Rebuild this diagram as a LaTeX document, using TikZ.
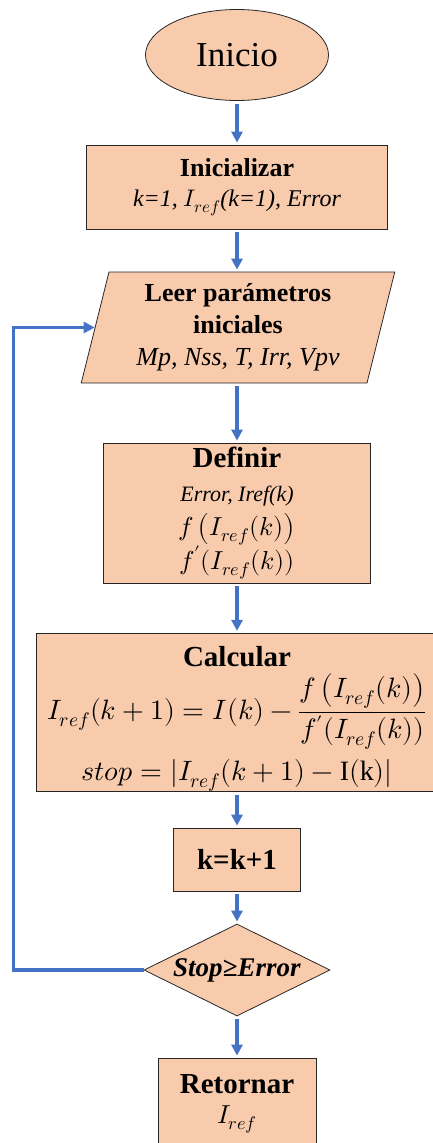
\documentclass[tikz,border=0pt]{standalone}
\usepackage{fontspec}
\setmainfont{Liberation Serif}
\usepackage{unicode-math}
\usetikzlibrary{shapes.geometric, arrows.meta}
\definecolor{peach}{HTML}{F8CBAD}
\definecolor{flowblue}{HTML}{4472C4}
\newcommand{\Iref}{I_{ref}}
\newcommand{\fsz}[2]{\fontsize{#1}{#2}\selectfont}

\begin{document}
\begin{tikzpicture}[x=1pt,y=-1pt]
\tikzset{
  pr/.style={rectangle,draw=black!85,line width=0.8pt,fill=peach,align=center,inner sep=0pt},
  tm/.style={ellipse,draw=black!85,line width=0.8pt,fill=peach,align=center,inner sep=0pt},
  io/.style={trapezium,trapezium left angle=76,trapezium right angle=104,trapezium stretches=true,draw=black!85,line width=0.8pt,fill=peach,align=center,inner sep=0pt},
  dc/.style={diamond,aspect=2,draw=black!85,line width=0.8pt,fill=peach,align=center,inner sep=0pt},
  ar/.style={-{Triangle[width=11pt,length=11pt]},line width=3.5pt,draw=flowblue},
  vr/.style={ar,shorten <=3pt,shorten >=2pt}
}
\useasboundingbox (0,0) rectangle (433,1143);
\node[tm,minimum width=183,minimum height=91,font=\fsz{35}{40}] (ini) at (237,55) {Inicio};
\node[pr,minimum width=301,minimum height=84,font=\fsz{24}{30}] (inz) at (237,187) {{\bfseries\fsz{26}{30}Inicializar}\\ \textit{k=1, $\Iref$(k=1), Error}};
\node[io,minimum width=314,minimum height=111,font=\fsz{26}{32}] (lee) at (238,327.5) {\textbf{Leer parámetros}\\ \textbf{iniciales}\\ \textit{Mp, Nss, T, Irr, Vpv}};
\node[pr,minimum width=267,minimum height=140,font=\fsz{26}{34}] (def) at (237,513) {{\bfseries\fsz{29}{34}Definir}\\ {\itshape\fsz{22}{30}Error, Iref(k)}\\ $f\left(\Iref(k)\right)$\\ $f'(\Iref(k))$};
\node[pr,minimum width=402,minimum height=149,font=\fsz{28}{33}] (cal) at (237,712.5) {{\bfseries\fsz{29}{33}\rule{0pt}{33pt}Calcular}\\[6pt] $\Iref(k+1)=I(k)-\dfrac{f\left(\Iref(k)\right)}{f'(\Iref(k))}$\\[9pt] $stop=|\Iref(k+1)-\mathrm{I(k)}|$};
\node[pr,minimum width=127,minimum height=63,font=\fsz{29}{33}] (inc) at (237,859.5) {\textbf{k=k+1}};
\node[dc,minimum width=186,minimum height=92,font=\fsz{27}{30}] (dec) at (237,970) {\textbf{\textit{Stop≥Error}}};
\node[pr,minimum width=158,minimum height=92,font=\fsz{26}{30}] (ret) at (237,1104) {{\bfseries\fsz{29}{30}Retornar}\\ $\Iref$};
\draw[vr] (ini.south) -- (inz.north);
\draw[vr] (inz.south) -- (inz.south |- lee.north);
\draw[vr] (lee.south -| def.north) -- (def.north);
\draw[vr] (def.south) -- (cal.north);
\draw[vr] (cal.south) -- (inc.north);
\draw[vr] (inc.south) -- (dec.north);
\draw[vr] (dec.south) -- (ret.north);
\draw[ar] (dec.west) -- ++(-130,0) |- (lee.west);
\end{tikzpicture}
\end{document}
